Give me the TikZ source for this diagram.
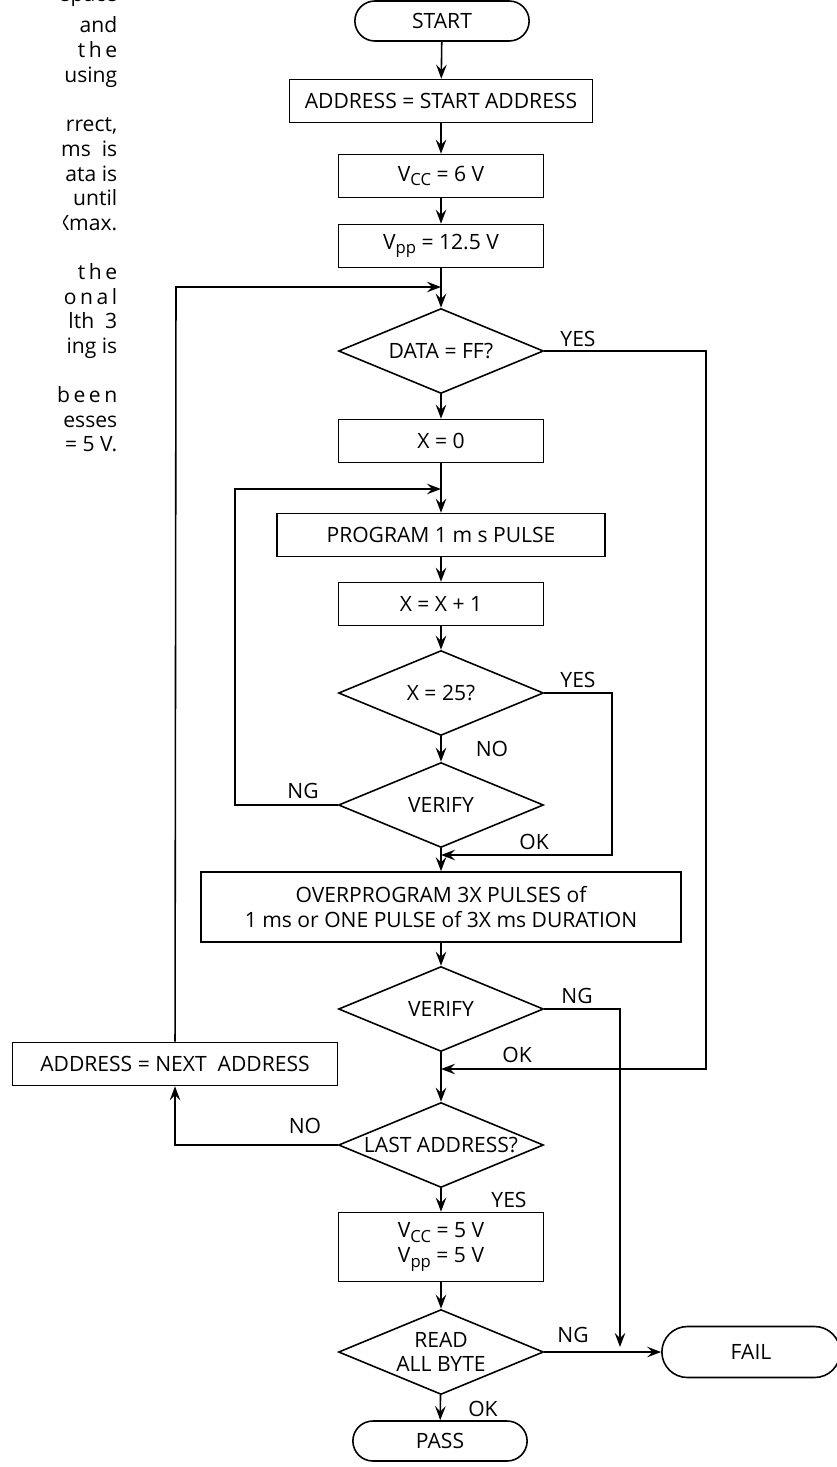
\documentclass[tikz,border=0pt]{standalone}
\usepackage{fontspec}
\setmainfont{Open Sans}
\usetikzlibrary{shapes.geometric,shapes.misc,arrows.meta}
\newcommand{\subtxt}[1]{\raisebox{-0.4ex}{\fontsize{9.5}{10}\selectfont #1}}

\begin{document}
\begin{tikzpicture}[x=0.02cm, y=-0.02cm, line width=0.9pt, font=\fontsize{12}{14}\selectfont,
  box/.style={draw, rectangle, minimum width=4.1cm, minimum height=0.86cm, align=center},
  test/.style={draw, diamond, shape aspect=2.4, minimum width=4.1cm, minimum height=1.7cm, inner sep=0pt, align=center},
  term/.style={draw, rounded rectangle, minimum width=3.72cm, minimum height=0.8cm},
  arr/.style={-{Stealth[length=8pt,width=6pt,inset=3pt]}},
  side/.style={anchor=base east, inner sep=0pt}]
\useasboundingbox (0,0) rectangle (836,1467);
\begin{scope}
\clip (0,0) rectangle (130,470);
\node[side] (t0) at (118,2) {space};
\node[side] (t1) at (118,32) {and};
\node[side] (t2) at (118,57) {t\,h\,e};
\node[side] (t3) at (118,82) {using};
\node[side] (t4) at (118,131) {rrect,};
\node[side] (t5) at (118,156) {ms\ \ is};
\node[side] (t6) at (118,181) {ata is};
\node[side] (t7) at (118,205) {until};
\node[side] (t8) at (118,230) {Xmax.};
\node[side] (t9) at (118,279) {t\,h\,e};
\node[side] (t10) at (118,304) {o\,n\,a\,l};
\node[side] (t11) at (118,328) {lth\ \ 3};
\node[side] (t12) at (118,353) {ing is};
\node[side] (t13) at (118,402) {b\,e\,e\,n};
\node[side] (t14) at (118,427) {esses};
\node[side] (t15) at (118,451) {= 5 V.};
\end{scope}
\fill[white] ([yshift=-1pt]t8.south west) rectangle ([xshift=3.6pt,yshift=1pt]t8.north west);
\node[term] (start) at (442,21) {START};
\node[box, minimum width=6.06cm] (addrStart) at (441,101) {ADDRESS = START ADDRESS};
\node[box] (vccSix) at (441,176) {V\subtxt{CC} = 6 V};
\node[box] (vppSet) at (441,246) {V\subtxt{pp} = 12.5 V};
\node[test] (dataFF) at (441,351) {DATA = FF?};
\node[box] (xZero) at (441,441) {X = 0};
\node[box, minimum width=6.56cm] (progPulse) at (441,535) {PROGRAM 1 m s PULSE};
\node[box] (xInc) at (441,604) {X = X + 1};
\node[test] (xMax) at (441,693) {X = 25?};
\node[test] (verifyA) at (441,805) {VERIFY};
\node[box, minimum width=9.6cm, minimum height=1.4cm] (overProg) at (441,907) {OVERPROGRAM 3X PULSES of\\1 ms or ONE PULSE of 3X ms DURATION};
\node[test] (verifyB) at (441,1009) {VERIFY};
\node[box, minimum width=6.5cm] (addrNext) at (175,1064) {ADDRESS = NEXT\ \ ADDRESS};
\node[test] (lastAddr) at (441,1145) {LAST ADDRESS?};
\node[box, minimum height=1.38cm] (vccFive) at (441,1247) {V\subtxt{CC} = 5 V\\V\subtxt{pp} = 5 V};
\node[test] (readAll) at (441,1352) {READ\\ALL BYTE};
\node[term] (pass) at (440,1441) {PASS};
\node[term, minimum width=3.8cm, minimum height=1.02cm] (fail) at (751,1352) {FAIL};
\coordinate (joinA) at (441,287);
\coordinate (joinB) at (441,489);
\coordinate (joinC) at (441,855);
\coordinate (joinD) at (441,1069);
\coordinate (outerTurn) at (176,287);
\coordinate (innerTurn) at (235,489);
\coordinate (yesTurn) at (612,693);
\coordinate (dataTurn) at (706,351);
\coordinate (ngTurn) at (620,1009);
\coordinate (ngEnd) at (620,1347);
\draw[arr] (start) -- (addrStart);
\draw[arr] (addrStart) -- (vccSix);
\draw[arr] (vccSix) -- (vppSet);
\draw[arr] (vppSet) -- (dataFF);
\draw[arr] (dataFF) -- (xZero);
\draw[arr] (xZero) -- (progPulse);
\draw[arr] (progPulse) -- (xInc);
\draw[arr] (xInc) -- (xMax);
\draw[arr] (xMax) -- (verifyA);
\draw[arr] (verifyA) -- (overProg);
\draw[arr] (overProg) -- (verifyB);
\draw[arr] (verifyB) -- (lastAddr);
\draw[arr] (lastAddr) -- (vccFive);
\draw[arr] (vccFive) -- (readAll);
\draw[arr] (readAll) -- (pass);
\draw[arr] (readAll) -- (fail);
\draw[arr] (addrNext) -- (outerTurn) -- (joinA);
\draw[arr] (lastAddr.west) -| (addrNext.south);
\draw[arr] (verifyA.west) -| (innerTurn) -- (joinB);
\draw[arr] (xMax.east) -- (yesTurn) |- (joinC);
\draw[arr] (dataFF.east) -- (dataTurn) |- (joinD);
\draw[arr] (verifyB.east) -- (ngTurn) -- (ngEnd);
\node (yesA) at (578,339) {YES};
\node (yesB) at (578,680) {YES};
\node (noA) at (492,749) {NO};
\node (ngA) at (303,791) {NG};
\node (okA) at (534,842) {OK};
\node (ngB) at (577,996) {NG};
\node (okB) at (517,1055) {OK};
\node (noB) at (305,1126) {NO};
\node (yesC) at (509,1200) {YES};
\node (ngC) at (573,1335) {NG};
\node (okC) at (483,1409) {OK};
\end{tikzpicture}
\end{document}
